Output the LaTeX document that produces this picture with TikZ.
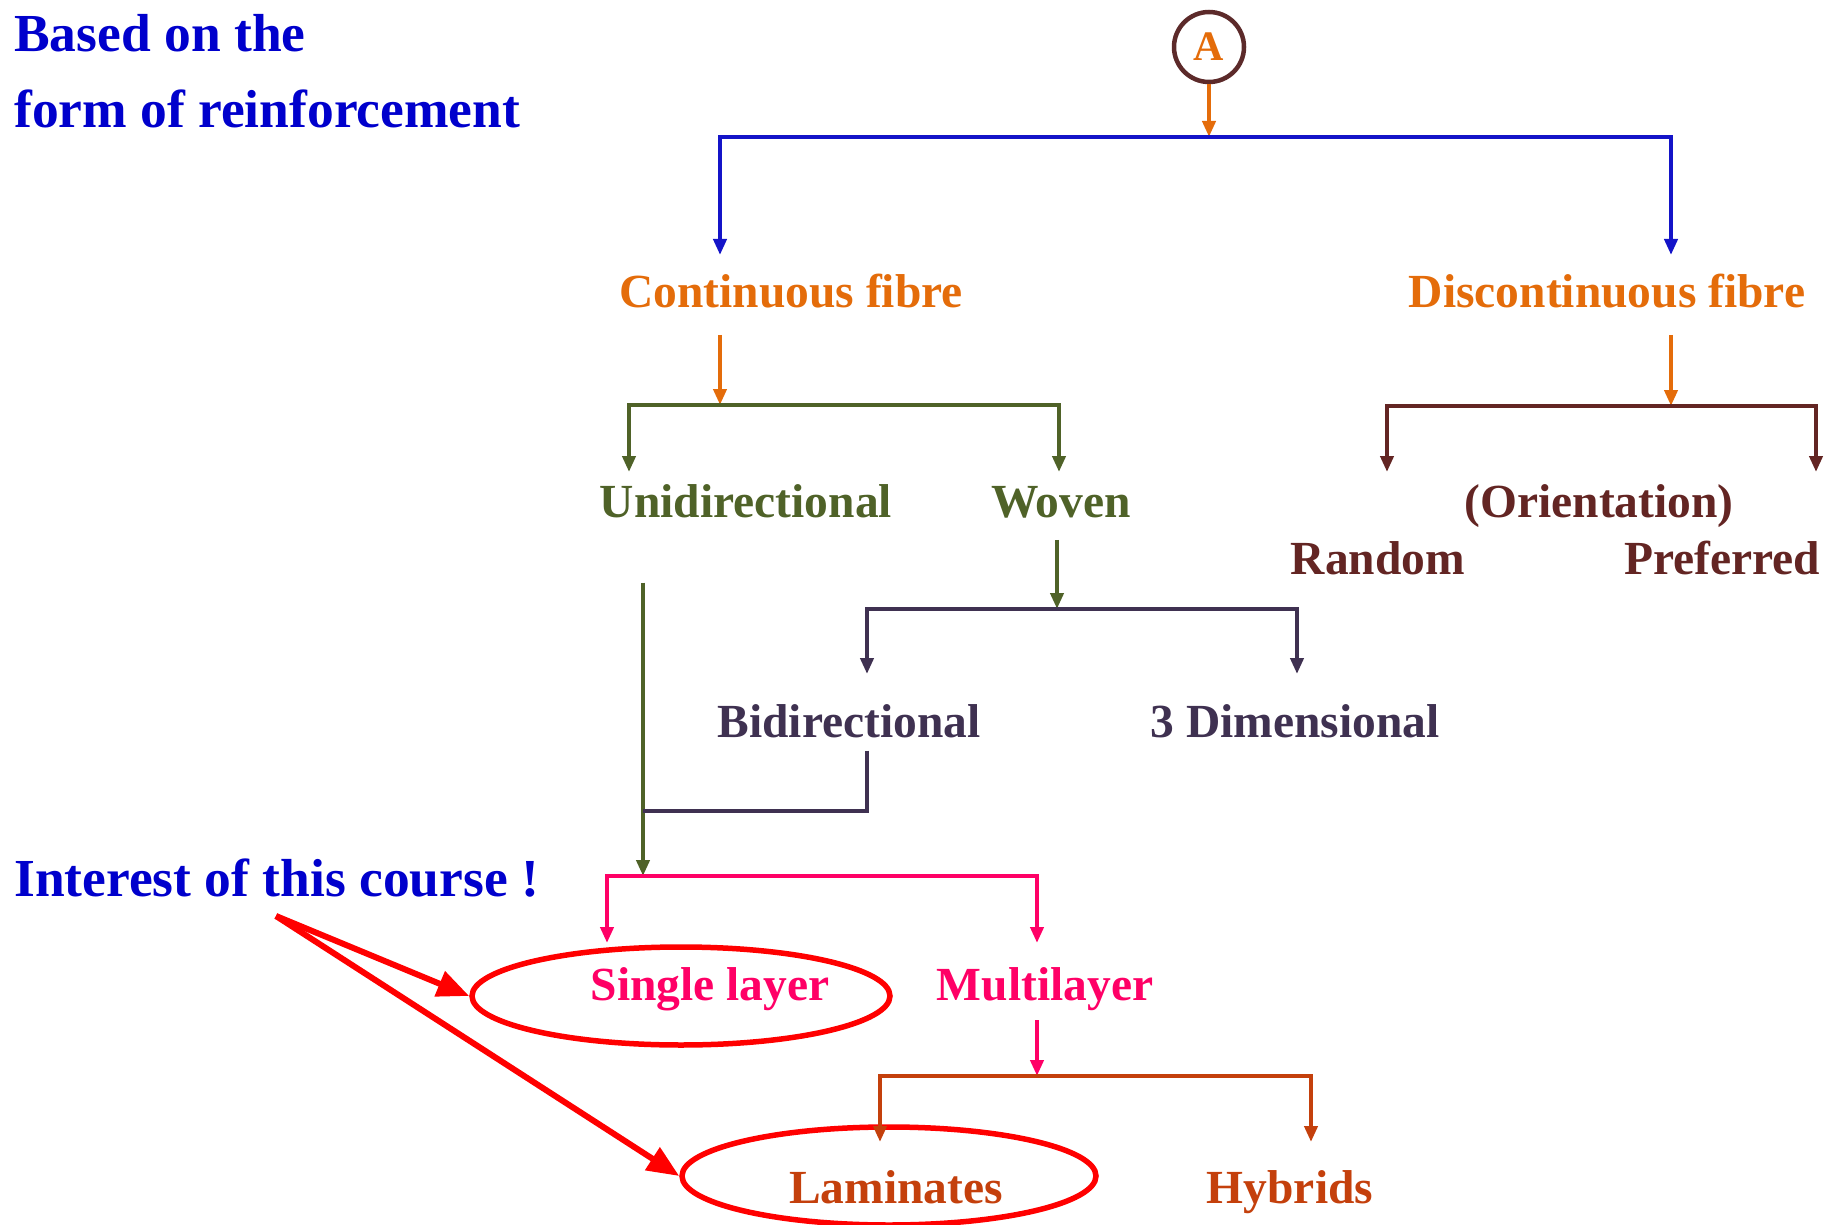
\documentclass[tikz,border=0pt]{standalone}
\usepackage{fontspec}
\setmainfont{Liberation Serif}
\usetikzlibrary{arrows.meta, shapes.geometric}
\definecolor{titleblue}{HTML}{0000CC}
\definecolor{barblue}{HTML}{1414C8}
\definecolor{fibreorange}{HTML}{E46C0A}
\definecolor{olive}{HTML}{4F6228}
\definecolor{rootbrown}{HTML}{5C2A2A}
\definecolor{orientbrown}{HTML}{632523}
\definecolor{navy}{HTML}{3F3151}
\definecolor{layerpink}{HTML}{FF0066}
\definecolor{rust}{HTML}{C4400C}
\tikzset{
  tree label/.style={
    font=\bfseries\fontsize{47.5}{50}\selectfont,
    inner sep=0pt,
    anchor=base,
  },
  title label/.style={
    font=\bfseries\fontsize{53.5}{56}\selectfont,
    text=titleblue,
    inner sep=0pt,
    anchor=base west,
  },
  branch/.style={line width=4pt},
  branch arrow/.style={branch, -{Triangle[length=16pt,width=13pt]}},
  branch pair/.style={branch, {Triangle[length=16pt,width=13pt]}-{Triangle[length=16pt,width=13pt]}},
  ring/.style={draw=red, line width=5.5pt, ellipse, inner sep=0pt},
  pointer/.style={draw=red, line width=6pt, -{Triangle[length=32pt,width=26pt]}},
}

\begin{document}
\begin{tikzpicture}[x=1pt,y=-1pt]
        \useasboundingbox (0,0) rectangle (1837,1225);

        \node[title label] (basedon) at (14,52) {Based on the};
        \node[title label] (formof) at (14,128) {form of reinforcement};
        \node[title label] (interest) at (14,896) {Interest of this course !};

        \node[circle, draw=rootbrown, line width=4.5pt, minimum size=70pt, inner sep=0pt,
              text=fibreorange, font=\bfseries\fontsize{42}{44}\selectfont] (A) at (1209,47) {A};

        \node[tree label, text=fibreorange] (cont) at (791,307) {Continuous fibre};
        \node[tree label, text=fibreorange] (discont) at (1607,307) {Discontinuous fibre};
        \node[tree label, text=olive] (unidir) at (746,517) {Unidirectional};
        \node[tree label, text=olive] (woven) at (1061,517) {Woven};
        \node[tree label, text=orientbrown] (orient) at (1599,517) {(Orientation)};
        \node[tree label, text=orientbrown] (random) at (1378,574) {Random};
        \node[tree label, text=orientbrown] (preferred) at (1722,574) {Preferred};
        \node[tree label, text=navy] (bidir) at (849,737) {Bidirectional};
        \node[tree label, text=navy] (threed) at (1295,737) {3 Dimensional};
        \node[tree label, text=layerpink] (single) at (710,1000) {Single layer};
        \node[tree label, text=layerpink] (multi) at (1045,1000) {Multilayer};
        \node[tree label, text=rust] (lamin) at (896,1203) {Laminates};
        \node[tree label, text=rust] (hybrid) at (1290,1203) {Hybrids};

        \node[ring, minimum width=418pt, minimum height=98pt] (ring1) at (681,996) {};
        \node[ring, minimum width=414pt, minimum height=98pt] (ring2) at (889,1176) {};

        % arrow tips above each label
        \coordinate (cont-in) at (720,255);
        \coordinate (discont-in) at (1671,255);
        \coordinate (unidir-in) at (629,472);
        \coordinate (woven-in) at (1059,472);
        \coordinate (random-in) at (1387,472);
        \coordinate (preferred-in) at (1816,472);
        \coordinate (bidir-in) at (867,674);
        \coordinate (threed-in) at (1297,674);
        \coordinate (single-in) at (607,943);
        \coordinate (multi-in) at (1037,943);
        \coordinate (lamin-in) at (880,1142);
        \coordinate (hybrid-in) at (1311,1142);

        % junctions on the bars
        \coordinate (j0) at (1209,137);
        \coordinate (j1) at (720,405);
        \coordinate (j2) at (1671,406);
        \coordinate (j3) at (1057,609);
        \coordinate (j4) at (643,876);
        \coordinate (j5) at (1037,1076);
        \coordinate (joint) at (643,811);
        \coordinate (src) at (276,916);

        \draw[branch arrow, fibreorange] (A) -- (j0);
        \draw[branch pair, barblue] (cont-in) |- (discont-in |- j0) -- (discont-in);

        \draw[branch arrow, fibreorange] ([yshift=-27pt]cont.south -| j1) -- (j1);
        \draw[branch pair, olive] (unidir-in) |- (woven-in |- j1) -- (woven-in);

        \draw[branch arrow, fibreorange] ([yshift=-27pt]discont.south -| j2) -- (j2);
        \draw[branch pair, orientbrown] (random-in) |- (preferred-in |- j2) -- (preferred-in);

        \draw[branch arrow, olive] ([yshift=-22pt]woven.south -| j3) -- (j3);
        \draw[branch pair, navy] (bidir-in) |- (threed-in |- j3) -- (threed-in);

        \draw[branch arrow, olive] ([yshift=-65pt]unidir.south -| j4) -- (j4);
        \draw[branch, navy] ([yshift=-13pt]bidir.south -| bidir-in) |- (joint);
        \draw[branch pair, layerpink] (single-in) |- (multi-in |- j4) -- (multi-in);

        \draw[branch arrow, layerpink] ([yshift=-10pt]multi.south -| j5) -- (j5);
        \draw[branch pair, rust] (lamin-in) |- (hybrid-in |- j5) -- (hybrid-in);

        \draw[pointer] (src) -- (ring1.west);
        \draw[pointer] (src) -- (ring2.west);
\end{tikzpicture}
\end{document}
